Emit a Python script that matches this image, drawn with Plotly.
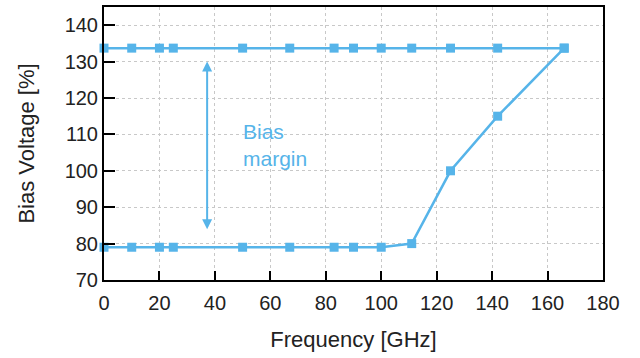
import plotly.graph_objects as go

freq = [0, 10, 20, 25, 50, 67, 83, 90, 100, 111, 125, 142, 166]
upper = [133.7] * 13
lower = [79, 79, 79, 79, 79, 79, 79, 79, 79, 80, 100, 115, 133.7]
x_ticks = [0, 20, 40, 60, 80, 100, 120, 140, 160, 180]
y_ticks = [70, 80, 90, 100, 110, 120, 130, 140]

blue = "#56B4E9"
font_family = "Liberation Sans, Arial"
fig = go.Figure()
for ys in (upper, lower):
    fig.add_trace(go.Scatter(x=freq, y=ys, mode="lines+markers",
                             line=dict(color=blue, width=2.5),
                             marker=dict(symbol="square", size=9, color=blue),
                             showlegend=False, cliponaxis=False))

fig.add_annotation(x=37.2, y=130, ax=37.2, ay=83.5, xref="x", yref="y",
                   axref="x", ayref="y", text="", showarrow=True,
                   arrowhead=2, startarrowhead=2, arrowside="end+start",
                   arrowcolor=blue, arrowwidth=2, arrowsize=1, startarrowsize=1)
fig.add_annotation(x=49.5, y=107, xref="x", yref="y", text="Bias<br>margin",
                   showarrow=False, xanchor="left", yanchor="middle", align="left",
                   font=dict(family=font_family, size=21, color=blue))

axis_common = dict(showline=True, linecolor="black", linewidth=2, mirror=True,
                   ticks="inside", tickcolor="black", tickwidth=2,
                   showgrid=True, gridcolor="#c8c8c8", griddash="dot", gridwidth=1,
                   zeroline=False,
                   tickfont=dict(family=font_family, size=20, color="#222"))
fig.update_xaxes(range=[0, 180], tickvals=x_ticks, ticklen=9, ticklabelstandoff=4,
                 title=dict(text="Frequency [GHz]", standoff=19,
                            font=dict(family=font_family, size=22, color="#222")),
                 **axis_common)
fig.update_yaxes(range=[70, 145], tickvals=y_ticks, ticklen=11,
                 title=dict(text="Bias Voltage [%]", standoff=24,
                            font=dict(family=font_family, size=22, color="#222")),
                 **axis_common)
fig.update_layout(width=640, height=358, margin=dict(l=104, r=37, t=5, b=78),
                  plot_bgcolor="white", paper_bgcolor="white")
fig.write_html("out.html")
